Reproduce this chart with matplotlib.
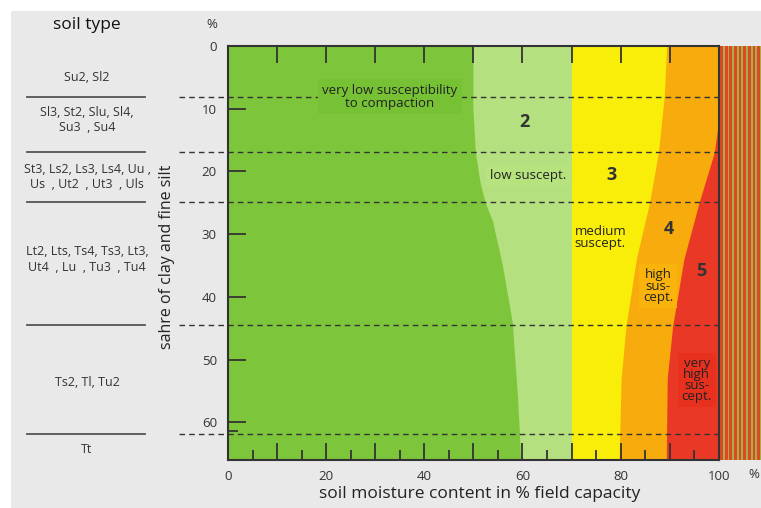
import numpy as np
import matplotlib.pyplot as plt
import matplotlib.transforms as mtransforms
from matplotlib.patches import Rectangle
from matplotlib.ticker import FixedLocator, FuncFormatter

plt.rcParams['font.family'] = ['Open Sans', 'DejaVu Sans']

# soil texture classes (left column) and the class limits in % clay + fine silt
soil_types = ["Su2, Sl2",
              "Sl3, St2, Slu, Sl4,\nSu3  , Su4",
              "St3, Ls2, Ls3, Ls4, Uu ,\nUs  , Ut2  , Ut3  , Uls",
              "Lt2, Lts, Ts4, Ts3, Lt3,\nUt4  , Lu  , Tu3  , Tu4",
              "Ts2, Tl, Tu2",
              "Tt"]
soil_type_y = [5, 11.8, 20.9, 34, 53.7, 64.4]
class_limits = [8.1, 16.9, 24.9, 44.5, 61.9]

# susceptibility zone edges: moisture (% field capacity) vs clay + fine silt (%)
green_y = [0, 10, 17, 22, 25, 28, 35, 44, 55, 62, 66]
green_x = [50, 50, 50.5, 51.5, 52.5, 54, 56, 58, 59, 59.5, 59.7]
lightgreen_x = 70
yellow_y = [0, 8, 17, 25, 34, 44.7, 53, 66]
yellow_x = [89.5, 89, 87.8, 86, 83.3, 81.2, 80.2, 79.8]
orange_y = [0, 12.3, 17, 25, 34, 44.7, 53, 66]
orange_x = [100, 100, 99.2, 96.1, 93, 90.7, 89.6, 89.4]

ymax = 66
xmax = 108.6

fig = plt.figure(figsize=(7.61, 5.08), dpi=100)
fig.patches.append(Rectangle((11 / 761, 0), 1, 1 - 11 / 508, transform=fig.transFigure,
                             facecolor='#e9e9e9', edgecolor='none', zorder=-10))
ax = fig.add_axes([228 / 761, 48 / 508, 533 / 761, 414 / 508])
ax.set_xlim(0, xmax)
ax.set_ylim(ymax, 0)
ax.patch.set_alpha(0)

# zones, drawn back to front
ax.fill([0, 100, 100, 0], [0, 0, ymax, ymax], color='#ea3826', lw=0, zorder=1)
ax.fill([0] + orange_x + [0], [0] + orange_y + [ymax], color='#f8ab0c', lw=0, zorder=1)
ax.fill([0] + yellow_x + [0], [0] + yellow_y + [ymax], color='#f8ee0a', lw=0, zorder=1)
ax.fill([0, lightgreen_x, lightgreen_x, 0], [0, 0, ymax, ymax], color='#b4e07f', lw=0, zorder=1)
ax.fill([0] + green_x + [0], [0] + green_y + [ymax], color='#7dc63b', lw=0, zorder=1)

# striped band beyond 100 %
ax.fill([100, xmax, xmax, 100], [0, 0, ymax, ymax], color='#a3b33f', lw=0, zorder=1)
stripes = np.arange(100.3, xmax, 0.94)
ax.bar(stripes, ymax, width=0.55, bottom=0, align='edge', color='#e0462a', lw=0, zorder=1)

# frame
for s in ['top', 'right', 'bottom']:
    ax.spines[s].set_visible(False)
ax.spines['left'].set_color('#333333')
ax.spines['left'].set_linewidth(1.5)
ax.plot([0, 100], [0, 0], color='#333333', lw=1.5, zorder=4, clip_on=False)
ax.plot([0, 100], [ymax, ymax], color='#333333', lw=1.5, zorder=4, clip_on=False)
ax.plot([100, 100], [0, ymax], color='#333333', lw=1.5, zorder=4, clip_on=False)

# dashed class limits
for yv in class_limits:
    ax.plot([-10, 100], [yv, yv], color='#333333', lw=1, ls=(0, (4, 3)), zorder=3, clip_on=False)

# ticks
ax.xaxis.set_major_locator(FixedLocator(list(range(0, 101, 10))))
ax.xaxis.set_minor_locator(FixedLocator(list(range(5, 100, 10))))
ax.xaxis.set_major_formatter(FuncFormatter(lambda v, p: f"{int(v)}" if int(v) % 20 == 0 else ""))
ax.tick_params(axis='x', which='major', direction='in', length=12, width=1.3, color='#333333',
               top=True, labelsize=9.5, labelcolor='#333333', pad=7)
ax.tick_params(axis='x', which='minor', direction='in', length=7, width=1.3, color='#333333')
ax.yaxis.set_major_locator(FixedLocator(list(range(0, 61, 10))))
ax.yaxis.set_minor_locator(FixedLocator([61.3]))
ax.tick_params(axis='y', which='major', direction='in', length=13, width=1.3, color='#333333',
               labelsize=9.5, labelcolor='#333333', pad=8)
ax.tick_params(axis='y', which='minor', direction='in', length=7, width=1.3, color='#333333')
ax.text(106.1, ymax + 1.2, "%", fontsize=9.5, color='#333333', va='top', ha='left', clip_on=False)

ax.set_xlabel("soil moisture content in % field capacity", fontsize=12.5, color='#222222')
ax.xaxis.set_label_coords(0.473, -0.062)
ax.set_ylabel("sahre of clay and fine silt", fontsize=11.5, color='#222222')
ax.yaxis.set_label_coords(-0.10, 0.49)

# zone labels
txt = dict(fontsize=9.5, color='#222222', ha='center', va='center', zorder=6, linespacing=0.95)
ax.text(33, 8.1, "very low susceptibility\nto compaction",
        bbox=dict(boxstyle='square,pad=0.35', fc='#76c134', ec='none'), **txt)
ax.text(61.1, 20.6, "low suscept.", bbox=dict(boxstyle='square,pad=0.3', fc='#b7e37f', ec='none'), **txt)
ax.text(70.6, 30.6, "medium\nsuscept.", fontsize=9.5, color='#222222', ha='left', va='center',
        zorder=6, linespacing=0.9)
ax.text(87.6, 38.3, "high\nsus-\ncept.", bbox=dict(boxstyle='square,pad=0.3', fc='#f9b30c', ec='none'),
        **{**txt, 'linespacing': 0.85})
ax.text(95.5, 53.3, "very\nhigh\nsus-\ncept.", bbox=dict(boxstyle='square,pad=0.3', fc='#e8301e', ec='none'),
        **{**txt, 'linespacing': 0.8})
num = dict(fontsize=13, fontweight='bold', color='#333333', ha='center', va='center', zorder=6)
ax.text(60.5, 12.1, "2", **num)
ax.text(78.2, 20.6, "3", **num)
ax.text(89.8, 29.2, "4", **num)
ax.text(96.5, 35.9, "5", **num)

# soil type column, placed in figure x / data y
tr = mtransforms.blended_transform_factory(fig.transFigure, ax.transData)
for yv in class_limits:
    ax.plot([27 / 761, 145 / 761], [yv, yv], color='#555555', lw=1.3, transform=tr, clip_on=False)
for label, yv in zip(soil_types, soil_type_y):
    ax.text(87 / 761, yv, label, transform=tr, fontsize=9, color='#333333', ha='center', va='center',
            linespacing=1.25)
fig.text(87 / 761, 1 - 25 / 508, "soil type", fontsize=12.5, color='#111111', ha='center', va='center')
fig.text(212 / 761, 1 - 25 / 508, "%", fontsize=9.5, color='#333333', ha='center', va='center')

fig.savefig("out.png", dpi=100)
